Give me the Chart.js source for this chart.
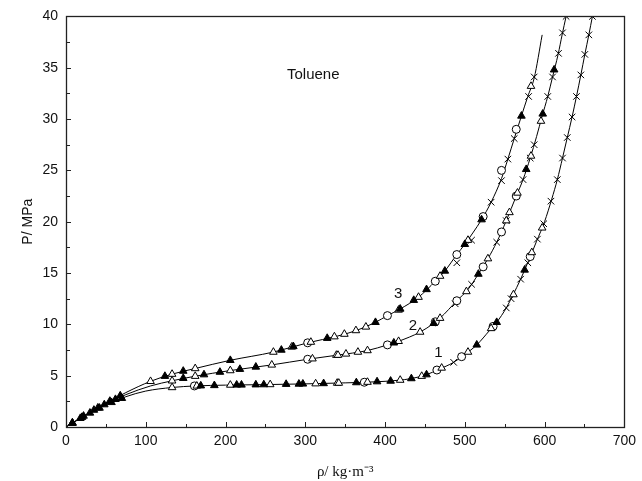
<!DOCTYPE html>
<html><head><meta charset="utf-8">
<script src="https://cdn.jsdelivr.net/npm/chart.js@4/dist/chart.umd.min.js"></script>
<style>html,body{margin:0;padding:0;background:#fff}#wrap{width:642px;height:481px;position:relative}</style>
</head><body><div id="wrap"><canvas id="c"></canvas></div>
<script>
// ---- axis ranges / ticks ----
const xRange = [0, 700];
const yRange = [0, 40];
const xStep = 100, yStep = 5;
const xMinorStep = 50, yMinorStep = 2.5;

// ---- fitted curves (rho, P) ----
const c1Rho = [0,10,25,50,75,100,133,162,200,250,300,350,400,433,452,467,486,498,515,531,540,552,560,570,580,590,600,609,616,622.5,628.5,634.5,640,645.5,650.5,655.5,660];
const c1P   = [0,0.47,1.15,2.15,2.95,3.5,3.85,4.0,4.08,4.13,4.2,4.3,4.45,4.72,5.1,5.6,6.3,6.95,8.0,9.4,10.2,11.6,12.8,14.4,16.2,18.1,20.0,22.2,24.1,26.2,28.2,30.2,32.2,34.3,36.3,38.2,40];
const c2Rho = [0,10,25,50,75,106,133,162,206,258,303,340,378,403,417,444,461,469,490,504,517,529,540,552,564.5,573,582,590,597,604,610,617,622,627];
const c2P   = [0,0.48,1.18,2.25,3.15,4.0,4.5,4.95,5.5,6.05,6.6,7.0,7.45,8.0,8.35,9.25,10.1,10.6,12.3,13.4,14.9,16.4,18.0,20.1,22.5,24.1,26.2,28.3,30.3,32.2,34.1,36.3,38.2,40];
const c3Rho = [0,10,25,50,75,106,133,162,206,260,303,340,364,388,403,419,442,463,475,490,500,510,521,533,546,554,562,571,579,587,597];
const c3P   = [0,0.5,1.2,2.3,3.35,4.45,5.15,5.7,6.5,7.3,8.2,8.85,9.4,10.2,10.85,11.5,12.65,14.2,15.2,16.8,17.8,18.9,20.2,21.9,24.2,26.1,28.1,30.3,32.2,34.0,38.2];

// ---- measured points: curve 1 ----
const c1FilledRho = [8,18,30,42,57,70,169,186,214,220,238,248,276,292,297,323,364,390,407,433,452,515,540,575];
const c1FilledP   = [0.38,0.85,1.37,1.85,2.4,2.8,4.02,4.05,4.1,4.1,4.12,4.13,4.17,4.19,4.2,4.24,4.33,4.42,4.48,4.72,5.1,8.0,10.2,15.3];
const c1OpenRho = [133,164,206,256,313,340,342,378,419,446,471,504,533,561,584,597];
const c1OpenP   = [3.85,4.0,4.09,4.14,4.22,4.28,4.28,4.37,4.57,4.95,5.75,7.3,9.6,12.9,17.0,19.4];
const c1CircleRho = [161,374,465,496,535.5,582];
const c1CircleP   = [4.0,4.36,5.55,6.85,9.8,16.6];
const c1CrossRho = [486,552,558,570,579,591,599,608,616,622.5,628.5,634.5,640,645.5,650.5,655.5,660];
const c1CrossP   = [6.3,11.6,12.5,14.4,16.0,18.3,19.8,22.0,24.1,26.2,28.2,30.2,32.2,34.3,36.3,38.2,40];

// ---- measured points: curve 2 ----
const c2FilledRho = [8,20,35,48,62,147,173,193,218,238,411,461,517,577,597.7,612];
const c2FilledP   = [0.39,0.95,1.65,2.18,2.7,4.75,5.1,5.35,5.63,5.85,8.2,10.1,14.9,25.1,30.5,34.8];
const c2OpenRho = [133,162,206,258,309,339,341,351,366,378,417,444,469,502,529,552,556,566,583,595.5];
const c2OpenP   = [4.5,4.95,5.5,6.05,6.65,7.0,7.0,7.12,7.3,7.45,8.35,9.25,10.6,13.2,16.4,20.1,20.9,22.8,26.4,29.8];
const c2CircleRho = [303,403,463,490,523,546,564.5];
const c2CircleP   = [6.6,8.0,10.25,12.3,15.6,19.0,22.5];
const c2CrossRho = [488,508.5,540,552,573,582,587,604,610,617.5,622.5,627];
const c2CrossP   = [12.0,13.9,18.0,20.1,24.1,26.2,27.5,32.2,34.1,36.4,38.4,40];

// ---- measured points: curve 3 ----
const c3FilledRho = [8,22,40,55,68,124,147,206,270,285,327.5,388,419,436,452,475,500,521,571];
const c3FilledP   = [0.4,1.07,1.87,2.52,3.05,4.95,5.45,6.5,7.5,7.85,8.65,10.2,11.5,12.35,13.4,15.2,17.8,20.2,30.3];
const c3OpenRho = [106,133,162,260,283,307,336.5,349,363.5,376,417,442,469,504,583];
const c3OpenP   = [4.45,5.15,5.7,7.3,7.8,8.27,8.8,9.05,9.4,9.75,11.4,12.65,14.7,18.2,33.2];
const c3CircleRho = [303,403,463,490,523,546,564.5];
const c3CircleP   = [8.2,10.85,14.2,16.8,20.5,25.0,29.0];
const c3CrossRho = [490,508.5,533,546,554,562,580,587];
const c3CrossP   = [16.0,18.2,21.9,24.0,26.1,28.1,32.2,34.1];

// ---- annotations ----
const curveLabels = ['1','2','3'];
const curveLabelRho = [467,435,416.5];
const curveLabelP = [7.2,9.9,13.0];
const titleText = 'Toluene';
const titleRho = 310, titleP = 34.3;

const pts = (xs, ys) => xs.map((x, i) => ({x, y: ys[i]}));

function lineDs(xs, ys) {
  return {type:'line', data:pts(xs, ys), borderColor:'#000', borderWidth:1,
    pointRadius:0, cubicInterpolationMode:'monotone', fill:false, order:2};
}
function markDs(xs, ys, kind) {
  const base = {type:'scatter', data:pts(xs, ys), borderColor:'#000', borderWidth:1, order:1, pointHoverRadius:0};
  if (kind === 'filled') return {...base, pointStyle:'triangle', pointRadius:4.4, backgroundColor:'#000'};
  if (kind === 'open') return {...base, pointStyle:'triangle', pointRadius:4.4, backgroundColor:'#fff'};
  if (kind === 'circle') return {...base, pointStyle:'circle', pointRadius:4, backgroundColor:'#fff'};
  return {...base, pointStyle:'crossRot', pointRadius:4.6, backgroundColor:'#000'};
}

const datasets = [
  lineDs(c1Rho, c1P), lineDs(c2Rho, c2P), lineDs(c3Rho, c3P),
  markDs(c1FilledRho, c1FilledP, 'filled'), markDs(c1OpenRho, c1OpenP, 'open'),
  markDs(c1CircleRho, c1CircleP, 'circle'), markDs(c1CrossRho, c1CrossP, 'cross'),
  markDs(c2FilledRho, c2FilledP, 'filled'), markDs(c2OpenRho, c2OpenP, 'open'),
  markDs(c2CircleRho, c2CircleP, 'circle'), markDs(c2CrossRho, c2CrossP, 'cross'),
  markDs(c3FilledRho, c3FilledP, 'filled'), markDs(c3OpenRho, c3OpenP, 'open'),
  markDs(c3CircleRho, c3CircleP, 'circle'), markDs(c3CrossRho, c3CrossP, 'cross')
];

const framePlugin = {
  id: 'frameTicks',
  afterDatasetsDraw(chart) {
    const {ctx, chartArea: a, scales: {x, y}} = chart;
    ctx.save();
    ctx.strokeStyle = '#222';
    ctx.lineWidth = 1;
    ctx.beginPath();
    for (let v = xRange[0]; v <= xRange[1]; v += xMinorStep) {
      const px = Math.round(x.getPixelForValue(v)) + 0.5;
      const len = (v % xStep === 0) ? 5 : 3;
      ctx.moveTo(px, a.bottom); ctx.lineTo(px, a.bottom - len);
    }
    for (let v = yRange[0]; v <= yRange[1]; v += yMinorStep) {
      const py = Math.round(y.getPixelForValue(v)) + 0.5;
      const len = (v % yStep === 0) ? 5 : 4;
      ctx.moveTo(a.left, py); ctx.lineTo(a.left + len, py);
    }
    ctx.stroke();
    ctx.lineWidth = 1.3;
    ctx.strokeRect(Math.round(a.left) + 0.5, Math.round(a.top) + 0.5, Math.round(a.right - a.left), Math.round(a.bottom - a.top));
    ctx.fillStyle = '#111';
    ctx.font = '15px "Liberation Sans", Arial, sans-serif';
    ctx.textAlign = 'center';
    ctx.textBaseline = 'middle';
    curveLabels.forEach((t, i) => {
      ctx.fillText(t, x.getPixelForValue(curveLabelRho[i]), y.getPixelForValue(curveLabelP[i]));
    });
    ctx.fillText(titleText, x.getPixelForValue(titleRho), y.getPixelForValue(titleP));
    ctx.restore();
  }
};

const tickFont = {family: '"Liberation Sans", Arial, sans-serif', size: 14};
new Chart(document.getElementById('c'), {
  data: {datasets},
  options: {
    responsive: true, maintainAspectRatio: false, animation: false,
    layout: {padding: {left: 0, right: 13, top: 15, bottom: 0}},
    plugins: {legend: {display: false}, tooltip: {enabled: false}},
    scales: {
      x: {type: 'linear', min: xRange[0], max: xRange[1],
        ticks: {stepSize: xStep, font: tickFont, color: '#111', padding: 6, maxRotation: 0},
        grid: {display: false, drawTicks: false}, border: {display: false},
        title: {display: true, text: 'ρ/ kg·m⁻³', color: '#111',
          font: {family: '"Liberation Serif", "Times New Roman", serif', size: 15}, padding: {top: 0, bottom: 0}},
        afterFit(s) { s.height = 54; }
      },
      y: {type: 'linear', min: yRange[0], max: yRange[1],
        ticks: {stepSize: yStep, font: tickFont, color: '#111', padding: 8},
        grid: {display: false, drawTicks: false}, border: {display: false},
        title: {display: true, text: 'P/ MPa', color: '#111',
          font: {family: '"Liberation Sans", Arial, sans-serif', size: 14}, padding: {top: 20, bottom: 0}},
        afterFit(s) { s.width = 66; }
      }
    }
  },
  plugins: [framePlugin]
});
</script>
</body></html>
